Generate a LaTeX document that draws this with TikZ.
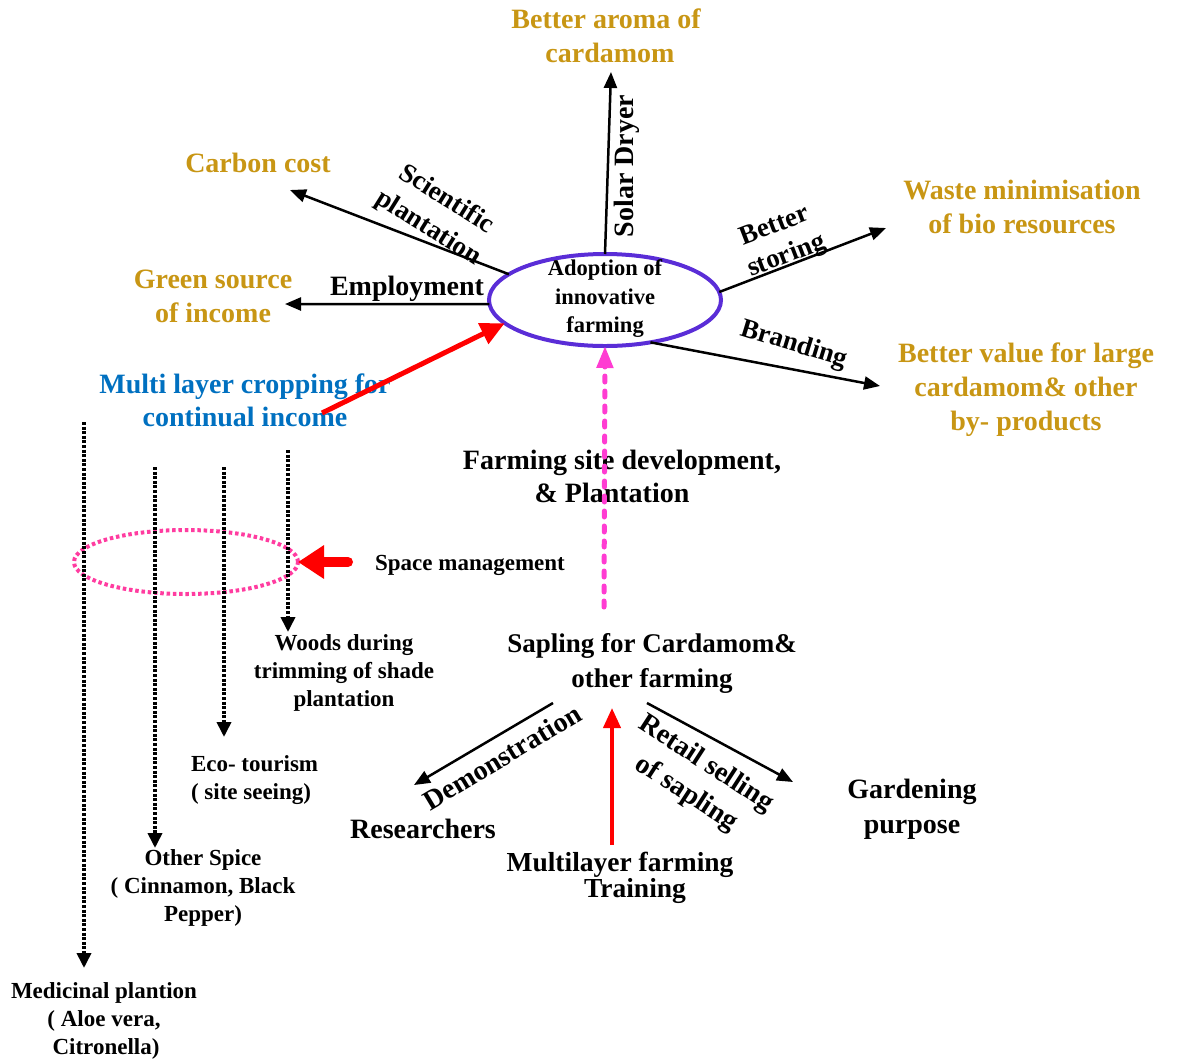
\documentclass[tikz,border=0pt]{standalone}
\usepackage{fontspec}
\setmainfont{Liberation Serif}
\usetikzlibrary{arrows.meta,shapes.geometric}
\definecolor{goldtxt}{RGB}{200,150,20}
\definecolor{bluetxt}{RGB}{0,112,192}
\definecolor{ringviolet}{RGB}{90,45,215}
\definecolor{pinkdash}{RGB}{255,60,210}
\definecolor{pinkring}{RGB}{255,60,160}
\begin{document}
\begin{tikzpicture}[x=1pt,y=-1pt,
  every node/.style={inner sep=0pt, outer sep=0pt, align=center},
  goldtext/.style={text=goldtxt, font=\fontsize{28}{34}\selectfont\bfseries},
  bluetext/.style={text=bluetxt, font=\fontsize{28}{33}\selectfont\bfseries},
  big/.style={font=\fontsize{28}{34}\selectfont\bfseries},
  mid/.style={font=\fontsize{27}{34}\selectfont\bfseries},
  small/.style={font=\fontsize{23}{28}\selectfont\bfseries},
  blackarrow/.style={line width=2.5pt, -{Triangle[length=16pt,width=13pt]}},
  redarrow/.style={draw=red, line width=5pt, -{Triangle[length=24pt,width=22pt]}},
  thinred/.style={draw=red, line width=4pt, -{Triangle[length=20pt,width=17pt]}},
  pinkarrow/.style={draw=pinkdash, line width=5pt, line cap=round,
    dash pattern=on 6pt off 9pt, -{Triangle[length=22pt,width=16pt,fill=pinkdash]}},
  dotline/.style={line width=3.6pt, dash pattern=on 3pt off 1.6pt,
    -{Triangle[length=15pt,width=14pt]}},
  blockarrow/.style={draw=red, line width=10pt, line cap=round,
    -{Triangle[length=26pt,width=32pt]}}
]
\useasboundingbox (0,0) rectangle (1177,1061);

% central ring
\node[draw=ringviolet, line width=4pt, ellipse, minimum width=232pt,
      minimum height=92pt] (core) at (605,300) {};
\node[font=\fontsize{22.5}{28.5}\selectfont\bfseries] (coretext) at (605,299)
  {Adoption of\\innovative\\farming};

% outcomes
\node[goldtext] (aroma) at (606,36) {Better aroma of\\\hspace*{8pt}cardamom};
\node[goldtext] (carbon) at (258,163) {Carbon cost};
\node[goldtext] (green) at (213,296) {Green source\\of income};
\node[goldtext] (waste) at (1022,207) {Waste minimisation\\of bio resources};
\node[goldtext] (value) at (1026,390) {Better value for large\\cardamom\& other\\by- products};
\node[bluetext] (crop) at (245,400) {Multi layer cropping for\\continual income};

% arrow labels
\node[rotate=-32, font=\fontsize{27}{34}\selectfont\bfseries] (sci) at (437,214) {Scientific\\plantation};
\node[big, rotate=90] (solar) at (627,166) {Solar Dryer};
\node[rotate=21, font=\fontsize{27}{32}\selectfont\bfseries] (store) at (781,242) {Better\\storing};
\node[mid, rotate=-17] (brand) at (794,345) {Branding};
\node[big] (employ) at (407,289) {Employment};

% radiating arrows
\coordinate (aromaEnd) at (611,72);
\coordinate (carbonEnd) at (290,190);
\coordinate (greenEnd) at (285,304);
\coordinate (wasteEnd) at (886,228);
\coordinate (valueEnd) at (880,386);
\draw[blackarrow] (core.north) -- (aromaEnd);
\draw[blackarrow] (core.165) -- (carbonEnd);
\draw[blackarrow] (core.182) -- (greenEnd);
\draw[blackarrow] (core.4) -- (wasteEnd);
\draw[blackarrow] (core.-43) -- (valueEnd);

% site development
\node[font=\fontsize{28}{33}\selectfont\bfseries] (site) at (622,476)
  {Farming site development,\\\& Plantation\hspace*{20pt}};
\coordinate (siteStart) at (604,607);
\draw[pinkarrow] (siteStart) -- (core.south);

% cropping from the multi-layer side
\coordinate (cropStart) at (322,413);
\draw[redarrow] (cropStart) -- (core.193);

% space management ring and layers
\node[draw=pinkring, line width=4pt, dash pattern=on 3.5pt off 2.8pt,
      ellipse, minimum width=224pt, minimum height=64pt] (spacering) at (186,562) {};
\node[small] (space) at (470,565) {Space management};
\coordinate (spaceTail) at (348,562);
\draw[blockarrow] (spaceTail) -- (spacering.east);

\node[small] (woods) at (344,673) {Woods during\\trimming of shade\\plantation};
\node[small, align=left, anchor=west] (eco) at (191,780) {Eco- tourism\\( site seeing)};
\node[small] (spice) at (203,888) {Other Spice\\( Cinnamon, Black\\Pepper)};
\node[small] (medic) at (104,1021) {Medicinal plantion\\( Aloe vera,\\\hspace*{4pt}Citronella)};

\coordinate (layerA) at (84,422);
\coordinate (layerB) at (155,467);
\coordinate (layerC) at (224,467);
\coordinate (layerD) at (288,450);
\coordinate (layerAend) at (84,968);
\coordinate (layerBend) at (155,848);
\coordinate (layerCend) at (224,737);
\coordinate (layerDend) at (288,632);
\draw[dotline] (layerA) -- (layerAend);
\draw[dotline] (layerB) -- (layerBend);
\draw[dotline] (layerC) -- (layerCend);
\draw[dotline] (layerD) -- (layerDend);

% sapling branch
\node[font=\fontsize{27}{35}\selectfont\bfseries] (sapling) at (652,663)
  {Sapling for Cardamom\&\\other farming};
\node[big] (research) at (423,829) {Researchers};
\node[font=\fontsize{28}{35}\selectfont\bfseries] (garden) at (912,809) {Gardening\\purpose};
\node[font=\fontsize{27.5}{25}\selectfont\bfseries] (training) at (620,878)
  {Multilayer farming\\\hspace*{30pt}Training};
\node[big, rotate=31] (demo) at (502,757) {Demonstration};
\node[rotate=-33, font=\fontsize{28}{36}\selectfont\bfseries] (retail) at (696,779)
  {Retail selling\\of sapling};

\coordinate (demoStart) at (553,703);
\coordinate (demoEnd) at (414,785);
\coordinate (retailStart) at (647,703);
\coordinate (retailEnd) at (793,782);
\coordinate (trainStart) at (612,845);
\coordinate (trainEnd) at (612,708);
\draw[blackarrow] (demoStart) -- (demoEnd);
\draw[blackarrow] (retailStart) -- (retailEnd);
\draw[thinred] (trainStart) -- (trainEnd);
\end{tikzpicture}
\end{document}
